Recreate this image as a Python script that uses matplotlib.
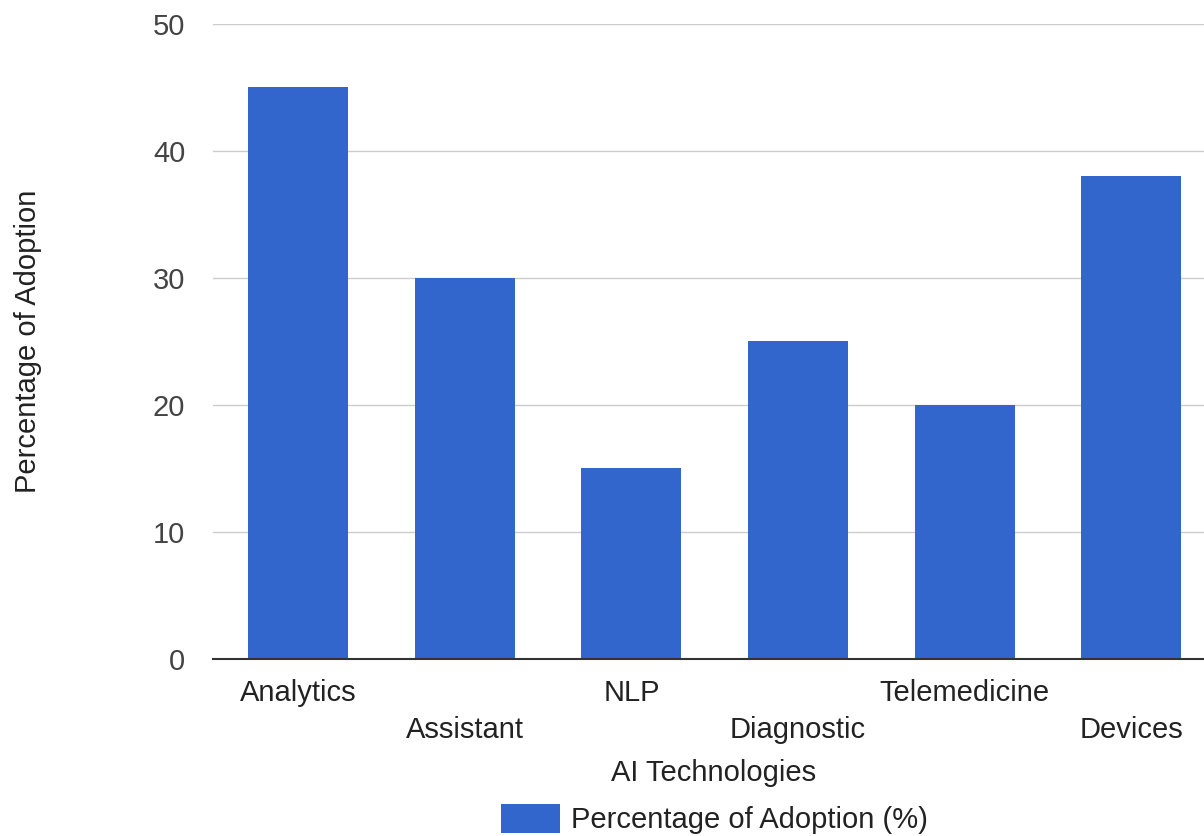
import matplotlib
matplotlib.use("Agg")
import matplotlib.pyplot as plt
import numpy as np

plt.rcParams['font.family'] = ['Liberation Sans', 'DejaVu Sans']

categories = ['Analytics', 'Assistant', 'NLP', 'Diagnostic', 'Telemedicine', 'Devices']
adoption = [45, 30, 15, 25, 20, 38]
series_name = 'Percentage of Adoption (%)'

fig = plt.figure(figsize=(12.04, 8.36), dpi=100)
ax = fig.add_axes([213/1204, 1-659/836, 991/1204, 635/836])

x = np.arange(len(categories))
ax.bar(x, adoption, width=0.6, color='#3366CC', label=series_name, zorder=3)

ax.set_xlim(-0.51, 5.435)
ax.set_ylim(0, 50)
ax.set_yticks([0, 10, 20, 30, 40, 50])
ax.grid(axis='y', color='#cccccc', linewidth=1, zorder=0)

for s in ['top', 'right', 'left']:
    ax.spines[s].set_visible(False)
ax.spines['bottom'].set_color('#333333')
ax.spines['bottom'].set_linewidth(1.5)
ax.spines['bottom'].set_zorder(4)

fs = 21

# staggered category labels: even on major ticks, odd on minor ticks
ax.set_xticks(x[::2])
ax.set_xticklabels(categories[::2])
ax.set_xticks(x[1::2], minor=True)
ax.set_xticklabels(categories[1::2], minor=True)
ax.tick_params(axis='x', which='major', length=0, pad=14.5, labelsize=fs, labelcolor='#222222')
ax.tick_params(axis='x', which='minor', length=0, pad=41, labelsize=fs, labelcolor='#222222')
ax.tick_params(axis='y', length=0, pad=20, labelsize=fs, labelcolor='#444444')

ax.set_xlabel('AI Technologies', fontsize=fs, color='#222222', va='center')
ax.xaxis.set_label_coords(0.5055, -(773-659)/635)
ax.set_ylabel('Percentage of Adoption', fontsize=fs, color='#222222', va='center')
ax.yaxis.set_label_coords((28-213)/991, 0.5)

fig.legend(loc='upper center', bbox_to_anchor=(714.5/1204, 1-789/836), frameon=False,
           fontsize=fs, handlelength=2.0, handleheight=1.2, handletextpad=0.38, borderpad=0,
           labelcolor='#222222')

fig.savefig('out.png', dpi=100)
